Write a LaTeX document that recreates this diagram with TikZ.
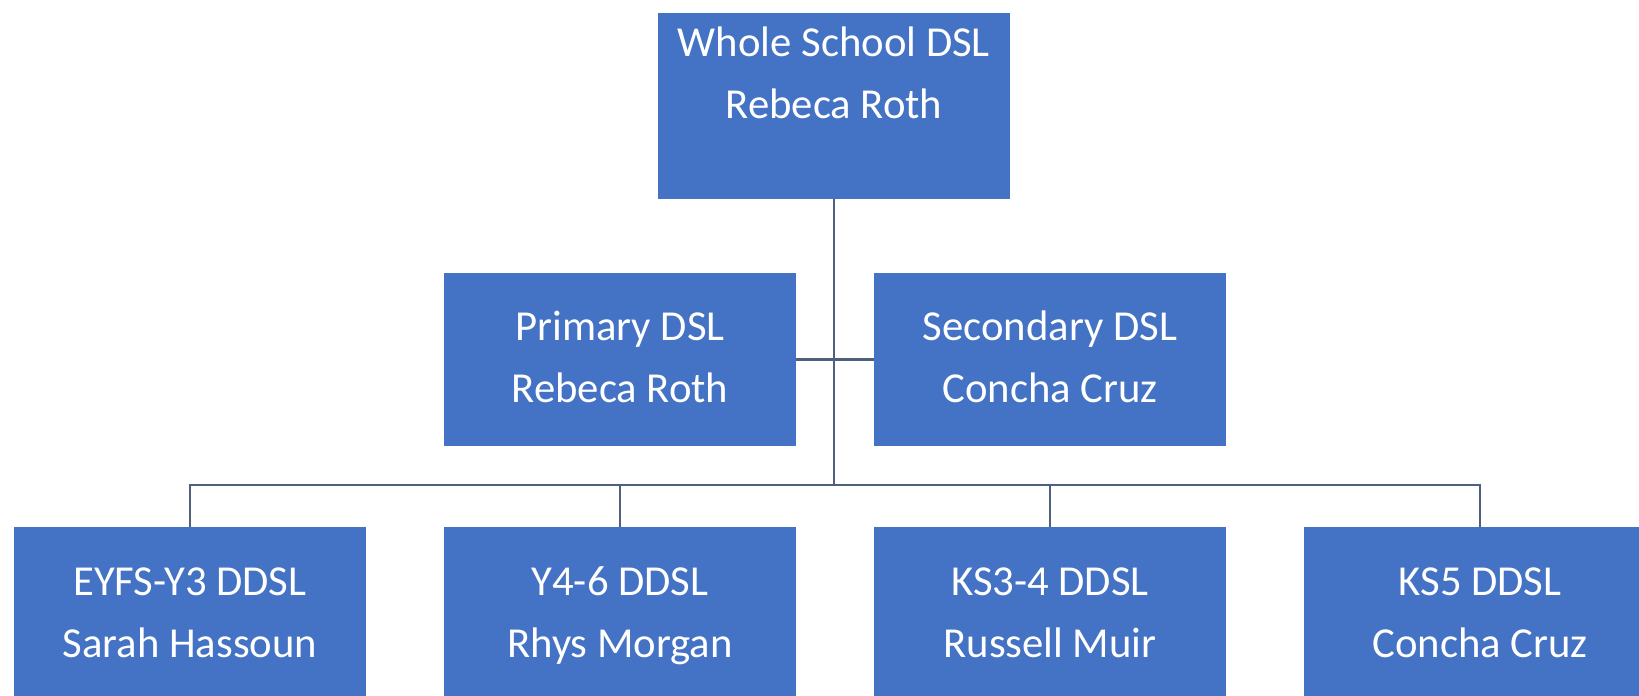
\documentclass[tikz,border=0pt]{standalone}
\usepackage{fontspec}
\setmainfont{Carlito}
\usetikzlibrary{positioning}
\definecolor{boxblue}{HTML}{4472C4}
\definecolor{linkgray}{HTML}{4F5F7E}
\begin{document}
\begin{tikzpicture}
        \tikzstyle{role} = [rectangle, minimum width=7.04cm, minimum height=3.5cm, inner sep=0pt, text centered, align=center, fill=boxblue, text=white, font=\fontsize{24.3}{35.3}\selectfont, node distance=8.6cm]
        \tikzstyle{link} = [draw=linkgray, line width=1.4pt]

                \useasboundingbox (0,0) rectangle (32.78,-13.9);
                \clip (0,0) rectangle (32.78,-13.9);

                \node (whole) [role] at (16.68,-2.12) {\strut Whole School DSL \\ \strut Rebeca Roth \\ \strut};
                \node (primary) [role, node distance=5.07cm, below of=whole, xshift=-4.28cm, minimum height=3.46cm] {\strut Primary DSL \\ \strut Rebeca Roth};
                \node (secondary) [role, right of=primary, minimum height=3.46cm] {\strut Secondary DSL \\ \strut Concha Cruz};

                \node (eyfs) [role, node distance=5.1cm, below of=primary, xshift=-8.6cm] {\strut EYFS-Y3 DDSL \\ \strut Sarah Hassoun};
                \node (yfour) [role, right of=eyfs] {\strut Y4-6 DDSL \\ \strut Rhys Morgan};
                \node (ksthree) [role, right of=yfour] {\strut KS3-4 DDSL \\ \strut Russell Muir};
                \node (ksfive) [role, right of=ksthree] {\strut KS5 DDSL \\ \strut Concha Cruz};

                \coordinate [below=7.58cm of whole.center] (hub);

                \draw[link] (whole) -- (hub);
                \draw[link] (primary) -- (secondary);
                \foreach \n in {eyfs, yfour, ksthree, ksfive}
                        \draw[link] (hub) -| (\n);

    \end{tikzpicture}
\end{document}
